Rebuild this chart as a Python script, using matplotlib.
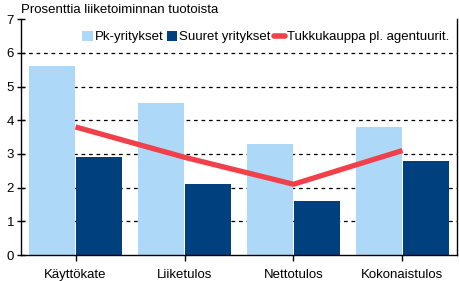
import matplotlib
matplotlib.use("Agg")
import matplotlib.pyplot as plt
import numpy as np

categories = ["Käyttökate", "Liiketulos", "Nettotulos", "Kokonaistulos"]
pk = [5.6, 4.5, 3.3, 3.8]
suuret = [2.9, 2.1, 1.6, 2.8]
tukku = [3.8, 2.9, 2.1, 3.1]
yticks = [0, 1, 2, 3, 4, 5, 6, 7]

plt.rcParams['font.family'] = ['Liberation Sans', 'DejaVu Sans']
plt.rcParams['font.size'] = 9.5

fig = plt.figure(figsize=(4.59, 2.81), dpi=100)
ax = fig.add_axes([0.0458, 0.0925, 0.9498, 0.8395])

x = np.arange(len(categories))
w = 0.42
b1 = ax.bar(x - w / 2 - 0.003, pk, width=w, color="#ADD8F8", linewidth=0, label="Pk-yritykset", zorder=2)
b2 = ax.bar(x + w / 2 + 0.006, suuret, width=w, color="#00407F", linewidth=0, label="Suuret yritykset", zorder=2)
l1, = ax.plot(x, tukku, color="#F0404A", linewidth=3.8, solid_capstyle="butt", label="Tukkukauppa pl. agentuurit.", zorder=3)

ax.set_xlim(-0.5, 3.5)
ax.set_ylim(0, 7)
ax.set_yticks(yticks)
ax.set_xticks(x)
ax.set_xticklabels(categories)
ax.yaxis.grid(True, color="black", linestyle=(0, (3, 3)), linewidth=0.9, zorder=1)
ax.set_axisbelow(True)
gl = ax.yaxis.get_gridlines()
gl[0].set_visible(False)
gl[-1].set_visible(False)

ax.spines['top'].set_visible(False)
for s in ['left', 'right', 'bottom']:
    ax.spines[s].set_linewidth(1)
    ax.spines[s].set_color("black")

ax.tick_params(axis='y', direction='inout', length=6, width=1, pad=2, labelsize=9.5)
ax.tick_params(axis='x', direction='out', length=4, width=1, pad=6, labelsize=9.5)

fig.text(0.0458, 0.963, "Prosenttia liiketoiminnan tuotoista", ha="left", va="center", fontsize=9.5)

leg = ax.legend([b1, b2, l1], ["Pk-yritykset", "Suuret yritykset", "Tukkukauppa pl. agentuurit."],
                loc="upper right", bbox_to_anchor=(1.003, 0.99), ncol=3, frameon=False,
                handlelength=0.8, handleheight=0.8, handletextpad=0.15, columnspacing=0.25,
                borderaxespad=0.3, fontsize=9.5)
for ln in leg.get_lines():
    ln.set_solid_capstyle("round")
    ln.set_linewidth(4)

fig.savefig("out.png", dpi=100)
